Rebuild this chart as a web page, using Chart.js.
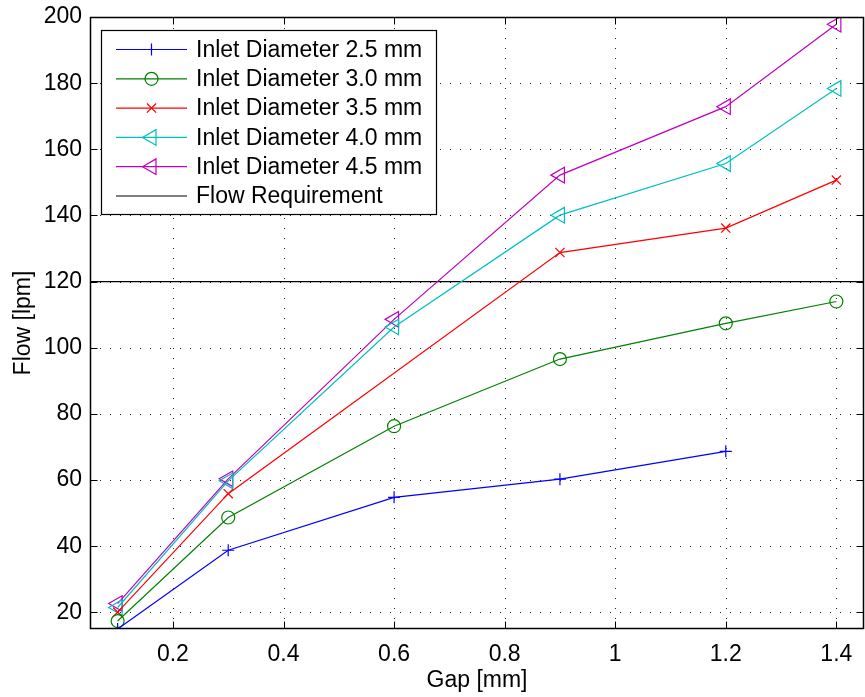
<!DOCTYPE html>
<html><head><meta charset="utf-8">
<script src="https://cdn.jsdelivr.net/npm/chart.js@4/dist/chart.umd.min.js"></script>
<style>html,body{margin:0;padding:0;background:#fff;}</style>
</head><body>
<canvas id="c" width="865" height="697"></canvas>
<script>
// ---- data ----
const gaps = [0.1, 0.3, 0.6, 0.9, 1.2, 1.4];
const inlet25 = [15.0, 38.8, 54.8, 60.3, 68.7, null];
const inlet30 = [17.4, 48.7, 76.3, 96.6, 107.4, 114.0];
const inlet35 = [20.1, 55.9, null, 128.8, 136.2, 150.7];
const inlet40 = [21.5, 59.8, 106.3, 140.1, 155.7, 178.4];
const inlet45 = [22.7, 60.4, 108.6, 152.2, 172.9, 197.8];
const flowRequirement = 120;
const seriesNames = ['Inlet Diameter 2.5 mm','Inlet Diameter 3.0 mm','Inlet Diameter 3.5 mm','Inlet Diameter 4.0 mm','Inlet Diameter 4.5 mm','Flow Requirement'];
const xTickValues = [0.2, 0.4, 0.6, 0.8, 1.0, 1.2, 1.4];
const xTickLabels = ['0.2','0.4','0.6','0.8','1','1.2','1.4'];
const yTickValues = [20, 40, 60, 80, 100, 120, 140, 160, 180, 200];
const xLimits = [0.05, 1.45];
const yLimits = [15, 200];

const FONT = "'Liberation Sans', Arial, Helvetica, sans-serif";
const FS = 23;

function pts(arr){ return gaps.map((g,i)=>({x:g,y:arr[i]})).filter(p=>p.y!==null); }

function series(label, arr, color, style, radius, rotation){
  return {label, data:pts(arr), borderColor:color, backgroundColor:'rgba(0,0,0,0)',
    borderWidth:1.2, pointStyle:style, pointRadius:radius, pointRotation:rotation||0,
    pointBorderColor:color, pointBackgroundColor:'rgba(0,0,0,0)', pointBorderWidth:1.2,
    pointHoverRadius:radius, spanGaps:true, tension:0, clip:0};
}

const datasets = [
  series(seriesNames[0], inlet25, '#0000ff', 'cross', 6),
  series(seriesNames[1], inlet30, '#008000', 'circle', 6.5),
  series(seriesNames[2], inlet35, '#ff0000', 'crossRot', 6.5),
  series(seriesNames[3], inlet40, '#00bfbf', 'triangle', 9, -90),
  series(seriesNames[4], inlet45, '#bf00bf', 'triangle', 9, -90),
  {label:seriesNames[5], data:[{x:xLimits[0],y:flowRequirement},{x:xLimits[1],y:flowRequirement}],
   borderColor:'#000', borderWidth:1.2, pointRadius:0, pointStyle:false, clip:0}
];

function drawMarker(ctx, style, r, rot, cx, cy){
  const rad = (rot||0)*Math.PI/180;
  ctx.beginPath();
  if(style==='circle'){ ctx.arc(cx,cy,r,0,2*Math.PI); }
  else if(style==='cross'){ ctx.moveTo(cx-r,cy); ctx.lineTo(cx+r,cy); ctx.moveTo(cx,cy-r); ctx.lineTo(cx,cy+r); }
  else if(style==='crossRot'){ const d=r*Math.SQRT1_2; ctx.moveTo(cx-d,cy-d); ctx.lineTo(cx+d,cy+d); ctx.moveTo(cx-d,cy+d); ctx.lineTo(cx+d,cy-d); }
  else if(style==='triangle'){
    let a=rad;
    ctx.moveTo(cx+Math.sin(a)*r, cy-Math.cos(a)*r);
    for(let k=0;k<2;k++){ a+=2*Math.PI/3; ctx.lineTo(cx+Math.sin(a)*r, cy-Math.cos(a)*r); }
    ctx.closePath();
  }
  ctx.stroke();
}

const matlabAxes = {
  id:'matlabAxes',
  beforeDatasetsDraw(chart){
    const {ctx, chartArea:a, scales:{x,y}} = chart;
    ctx.save();
    ctx.strokeStyle='#222'; ctx.lineWidth=1; ctx.setLineDash([1,9]);
    xTickValues.forEach(v=>{ const p=Math.round(x.getPixelForValue(v))+0.5;
      ctx.beginPath(); ctx.moveTo(p,a.bottom); ctx.lineTo(p,a.top); ctx.stroke(); });
    yTickValues.forEach(v=>{ const p=Math.round(y.getPixelForValue(v))+0.5;
      ctx.beginPath(); ctx.moveTo(a.left,p); ctx.lineTo(a.right,p); ctx.stroke(); });
    ctx.restore();
  },
  afterDatasetsDraw(chart){
    const {ctx, chartArea:a, scales:{x,y}} = chart;
    ctx.save();
    ctx.strokeStyle='#000'; ctx.lineWidth=1.5; ctx.setLineDash([]);
    const L=Math.round(a.left)+0.5, R=Math.round(a.right)-0.5, T=Math.round(a.top)+0.5, B=Math.round(a.bottom)-0.5;
    ctx.strokeRect(L,T,R-L,B-T);
    ctx.lineWidth=1;
    const tl=7;
    xTickValues.forEach(v=>{ const p=Math.round(x.getPixelForValue(v))+0.5;
      ctx.beginPath(); ctx.moveTo(p,B); ctx.lineTo(p,B-tl); ctx.moveTo(p,T); ctx.lineTo(p,T+tl); ctx.stroke(); });
    yTickValues.forEach(v=>{ const p=Math.round(y.getPixelForValue(v))+0.5;
      ctx.beginPath(); ctx.moveTo(L,p); ctx.lineTo(L+tl,p); ctx.moveTo(R,p); ctx.lineTo(R-tl,p); ctx.stroke(); });

    // legend
    const bx=101.5, by=30.5, bw=335, bh=184;
    ctx.fillStyle='#fff'; ctx.fillRect(bx,by,bw,bh);
    ctx.strokeStyle='#000'; ctx.lineWidth=1.2; ctx.strokeRect(bx,by,bw,bh);
    ctx.font = FS+'px '+FONT; ctx.textBaseline='middle'; ctx.textAlign='left';
    chart.data.datasets.forEach((ds,i)=>{
      const cy = 49.5 + i*29.3;
      ctx.strokeStyle=ds.borderColor; ctx.lineWidth=1.2;
      ctx.beginPath(); ctx.moveTo(116,cy); ctx.lineTo(187,cy); ctx.stroke();
      if(ds.pointStyle){ drawMarker(ctx, ds.pointStyle, ds.pointRadius, ds.pointRotation, 151.5, cy); }
      ctx.fillStyle='#000'; ctx.fillText(ds.label, 196, cy+1);
    });
    ctx.restore();
  }
};

new Chart(document.getElementById('c'), {
  type:'line',
  data:{datasets},
  plugins:[matlabAxes],
  options:{
    responsive:false, animation:false, devicePixelRatio:1,
    layout:{autoPadding:false, padding:{left:0,right:1,top:17,bottom:0}},
    plugins:{legend:{display:false}, tooltip:{enabled:false}},
    scales:{
      x:{type:'linear', min:xLimits[0], max:xLimits[1],
        afterBuildTicks(s){ s.ticks = xTickValues.map(v=>({value:v})); },
        afterFit(s){ s.height = 68; s.paddingLeft = 0; s.paddingRight = 0; },
        ticks:{callback:(v)=>{ const i=xTickValues.indexOf(v); return i>=0?xTickLabels[i]:''; },
          color:'#000', font:{family:FONT,size:FS}, padding:12, maxRotation:0, autoSkip:false},
        grid:{display:false, drawTicks:false}, border:{display:false},
        title:{display:true, text:'Gap [mm]', color:'#000', font:{family:FONT,size:FS}, padding:{top:0,bottom:3}}
      },
      y:{type:'linear', min:yLimits[0], max:yLimits[1],
        afterBuildTicks(s){ s.ticks = yTickValues.map(v=>({value:v})); },
        afterFit(s){ s.width = 90; s.paddingTop = 0; s.paddingBottom = 0; },
        ticks:{color:'#000', font:{family:FONT,size:FS}, padding:8, autoSkip:false},
        grid:{display:false, drawTicks:false}, border:{display:false},
        title:{display:true, text:'Flow [lpm]', color:'#000', font:{family:FONT,size:FS}, padding:{top:10,bottom:0}}
      }
    }
  }
});
</script>
</body></html>
